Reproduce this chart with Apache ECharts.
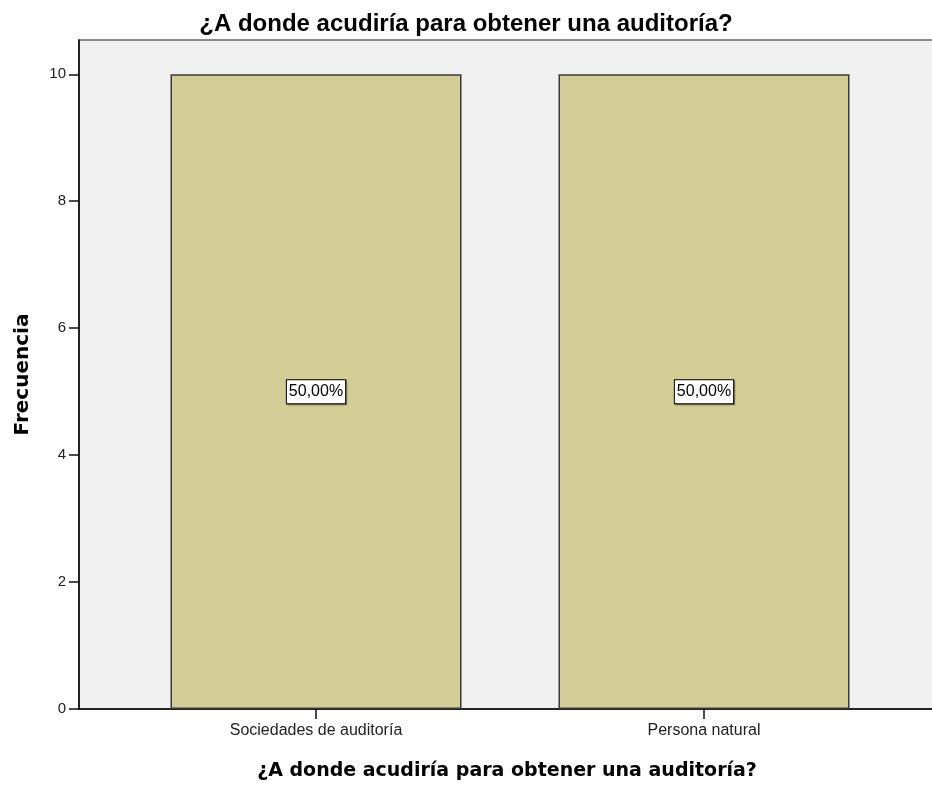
<!DOCTYPE html>
<html><head><meta charset="utf-8">
<script src="https://cdn.jsdelivr.net/npm/echarts@6/dist/echarts.min.js"></script>
<style>html,body{margin:0;padding:0;background:#fff}#c{width:932px;height:787px}</style>
</head><body><div id="c"></div>
<script>
const titleText = "¿A donde acudiría para obtener una auditoría?";
const xAxisTitle = "¿A donde acudiría para obtener una auditoría?";
const yAxisTitle = "Frecuencia";
const categories = ["Sociedades de auditoría", "Persona natural"];
const frequencies = [10, 10];
const percentLabels = ["50,00%", "50,00%"];
const yTicks = [0, 2, 4, 6, 8, 10];

const chart = echarts.init(document.getElementById('c'));
const option = {
  animation: false,
  backgroundColor: '#ffffff',
  title: {
    text: titleText, left: 'center', top: 7,
    textStyle: {fontFamily: 'Liberation Sans, Arial, sans-serif', fontSize: 24, fontWeight: 'bold', color: '#000'}
  },
  grid: [
    {left: 79, right: -3, top: 40, bottom: 78, show: true, backgroundColor: '#f0f0f0', borderColor: '#8c8c8c', borderWidth: 2,
     containLabel: false, outerBoundsMode: 'none'},
    {left: 122, right: 34, top: 40, bottom: 78, containLabel: false, outerBoundsMode: 'none'}
  ],
  xAxis: [
    {gridIndex: 0, type: 'value', min: 0, max: 1,
     name: xAxisTitle, nameLocation: 'middle', nameGap: 53,
     nameTextStyle: {fontFamily: '"DejaVu Sans", Verdana, sans-serif', fontSize: 19, fontWeight: 'bold', color: '#000'},
     axisLine: {show: true, onZero: false, lineStyle: {color: '#000', width: 1.5}}, axisTick: {show: false}, axisLabel: {show: false}, splitLine: {show: false}},
    {gridIndex: 1, type: 'category', data: categories,
     axisLine: {show: false}, axisTick: {show: true, alignWithLabel: true, length: 10, lineStyle: {color: '#111', width: 1.5}},
     axisLabel: {show: true, color: '#222', fontSize: 16, margin: 14, fontFamily: 'Liberation Sans, Arial, sans-serif'}}
  ],
  yAxis: [
    {gridIndex: 0, type: 'value', min: 0, max: 10.54, interval: 2,
     name: yAxisTitle, nameLocation: 'middle', nameGap: 46, nameRotate: 90,
     nameTextStyle: {fontFamily: '"DejaVu Sans", Verdana, sans-serif', fontSize: 20, fontWeight: 'bold', color: '#000'},
     axisLine: {show: true, lineStyle: {color: '#000', width: 1.5}},
     axisTick: {show: true, length: 10, lineStyle: {color: '#111', width: 1.5}},
     axisLabel: {color: '#222', fontSize: 15, margin: 13, showMaxLabel: false, fontFamily: 'Liberation Sans, Arial, sans-serif',
       formatter: v => yTicks.includes(v) ? String(v) : ''},
     splitLine: {show: false}},
    {gridIndex: 1, type: 'value', min: 0, max: 10.54, show: false}
  ],
  series: [{
    type: 'bar', xAxisIndex: 1, yAxisIndex: 1,
    data: frequencies, barWidth: '75%',
    itemStyle: {color: '#d3ce98', borderColor: '#3a3a3a', borderWidth: 1.5},
    label: {show: true, position: 'inside',
      formatter: p => percentLabels[p.dataIndex],
      backgroundColor: '#fff', borderColor: '#000', borderWidth: 1, padding: [4, 2, 3, 2],
      color: '#000', fontSize: 16, fontFamily: 'Liberation Sans, Arial, sans-serif',
      shadowColor: 'rgba(0,0,0,0.4)', shadowOffsetX: 1, shadowOffsetY: 1, shadowBlur: 1}
  }]
};
chart.setOption(option);
</script></body></html>
